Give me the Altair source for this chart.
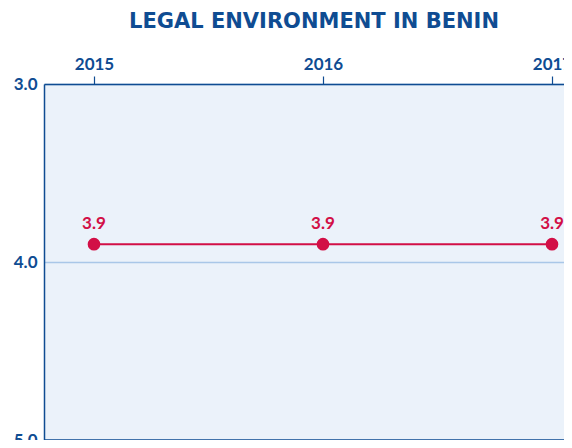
import altair as alt
import pandas as pd

years = [2015, 2016, 2017]
scores = [3.9, 3.9, 3.9]
score_labels = ["3.9", "3.9", "3.9"]
y_ticks = [3.0, 4.0, 5.0]
bottom_edge = [5.0]

BLUE = "#0f4c92"
RED = "#d20f46"
BG = "#ebf2fa"
GRID = "#a9c7e8"
FONT = "Lato"

df = pd.DataFrame({"year": years, "score": scores, "label": score_labels})
edge_df = pd.DataFrame({"edge": bottom_edge})

y_scale = alt.Scale(domain=[3, 5], reverse=True, nice=False, zero=False)

x_enc = alt.X(
    "year:Q",
    scale=alt.Scale(domain=[2014.7817, 2017.0524], nice=False, zero=False),
    axis=alt.Axis(
        orient="top", values=years, format="d", title=None, labelFlush=False,
        labelFont=FONT, labelFontSize=17, labelFontWeight="bold", labelColor=BLUE,
        labelPadding=3, tickSize=8, tickColor=BLUE, tickWidth=1.2,
        domainColor=BLUE, domainWidth=1.5, grid=False,
    ),
)
y_enc = alt.Y(
    "score:Q",
    scale=y_scale,
    axis=alt.Axis(
        values=y_ticks, format=".1f", title=None, labelFlush=False,
        labelFont=FONT, labelFontSize=17, labelFontWeight="bold", labelColor=BLUE,
        labelPadding=7, ticks=False, domainColor=BLUE, domainWidth=1.5,
        grid=True, gridColor=GRID, gridWidth=1.5,
    ),
)

base = alt.Chart(df).encode(x=x_enc, y=y_enc)
line = base.mark_line(color=RED, strokeWidth=2)
points = base.mark_point(filled=True, color=RED, size=160, opacity=1)
text = base.mark_text(
    color=RED, font=FONT, fontSize=17, fontWeight="bold", dy=-20
).encode(text="label:N")
edge = alt.Chart(edge_df).mark_rule(color=BLUE, strokeWidth=1.5).encode(
    y=alt.Y("edge:Q", scale=y_scale)
)

chart = alt.layer(line, points, text, edge).properties(
    width=520,
    height=356,
    padding={"left": 36, "top": 76, "right": 0, "bottom": 0},
    autosize=alt.AutoSizeParams(type="none"),
    title=alt.TitleParams(
        "LEGAL ENVIRONMENT IN BENIN", font="DejaVu Sans", fontSize=21, fontWeight="bold",
        color=BLUE, anchor="middle", dx=10, offset=23,
    ),
).configure(background="white").configure_view(fill=BG, stroke=None)

chart.save("out.html", embed_options={"renderer": "svg", "actions": False})
